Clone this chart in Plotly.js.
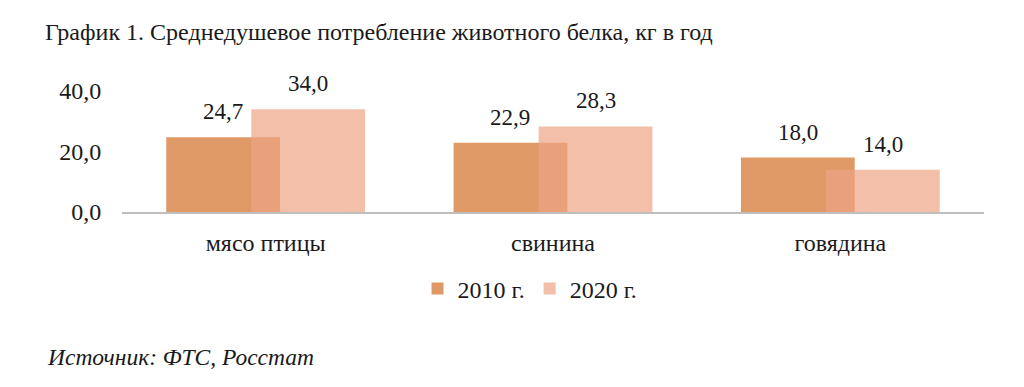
<!DOCTYPE html>
<html>
<head>
<meta charset="utf-8">
<script src="https://cdn.plot.ly/plotly-3.0.1.min.js"></script>
<style>html,body{margin:0;padding:0;background:#fff;}#chart{width:1024px;height:387px;}</style>
</head>
<body>
<div id="chart"></div>
<script>
const categories = ["мясо птицы", "свинина", "говядина"];
const series2010 = [24.7, 22.9, 18.0];
const series2020 = [34.0, 28.3, 14.0];
const seriesNames = ["2010 г.", "2020 г."];
const titleText = "График 1. Среднедушевое потребление животного белка, кг в год";
const sourceText = "Источник: ФТС, Росстат";

const FONT = "'Liberation Serif', 'Times New Roman', serif";
const BAR_W = 0.396;
const OFFSETS = [-0.346, -0.05];
const ML = 122, MR = 40, W = 1024;
const catPx = (W - ML - MR) / categories.length;

const traces = [
  {
    type: "bar", name: seriesNames[0], x: categories, y: series2010,
    width: BAR_W, offset: OFFSETS[0],
    marker: {color: "#DE9966"}, hoverinfo: "skip"
  },
  {
    type: "bar", name: seriesNames[1], x: categories, y: series2020,
    width: BAR_W, offset: OFFSETS[1],
    marker: {color: "rgba(238,164,132,0.7)"}, hoverinfo: "skip"
  }
];

const fmt = v => v.toFixed(1).replace(".", ",");
const labels = [];
[series2010, series2020].forEach((ser, si) => {
  ser.forEach((v, i) => {
    labels.push({
      x: categories[i], y: v, xref: "x", yref: "y",
      text: fmt(v), showarrow: false,
      xshift: (OFFSETS[si] + BAR_W / 2) * catPx,
      yanchor: "bottom", yshift: 11,
      font: {family: FONT, size: 23, color: "#1a1a1a"}
    });
  });
});

const layout = {
  width: 1024, height: 387,
  paper_bgcolor: "#fff", plot_bgcolor: "#fff",
  margin: {l: ML, r: MR, t: 91, b: 175},
  barmode: "overlay",
  separators: ", ",
  showlegend: true,
  font: {family: FONT, size: 24, color: "#1a1a1a"},
  title: {
    text: titleText, xref: "container", yref: "container",
    x: 45/1024, xanchor: "left", y: 1 - 32/387, yanchor: "middle",
    font: {family: FONT, size: 24, color: "#1a1a1a"}
  },
  xaxis: {
    type: "category", range: [-0.5, 2.5],
    showline: true, linecolor: "#BFBFBF", linewidth: 2,
    ticks: "outside", ticklen: 8, tickcolor: "rgba(0,0,0,0)",
    tickfont: {family: FONT, size: 24, color: "#1a1a1a"},
    showgrid: false, zeroline: false, fixedrange: true
  },
  yaxis: {
    range: [0, 40], tickvals: [0, 20, 40], tickformat: ".1f",
    showgrid: false, zeroline: false, showline: false,
    ticks: "outside", ticklen: 15, tickcolor: "rgba(0,0,0,0)",
    tickfont: {family: FONT, size: 24, color: "#1a1a1a"},
    fixedrange: true
  },
  legend: {
    orientation: "h", xref: "paper", yref: "paper",
    x: (530 - ML) / (W - ML - MR), xanchor: "center",
    y: (212 - 289) / 121, yanchor: "middle",
    font: {family: FONT, size: 24, color: "#1a1a1a"},
    traceorder: "normal"
  },
  annotations: labels.concat([{
    text: "<i>" + sourceText + "</i>", showarrow: false,
    xref: "paper", yref: "paper",
    x: (45 - ML) / (W - ML - MR), xanchor: "left",
    y: (212 - 357) / 121, yanchor: "middle",
    font: {family: FONT, size: 23.5, color: "#1a1a1a"}
  }])
};

Plotly.newPlot("chart", traces, layout, {displayModeBar: false, staticPlot: true});
</script>
</body>
</html>
